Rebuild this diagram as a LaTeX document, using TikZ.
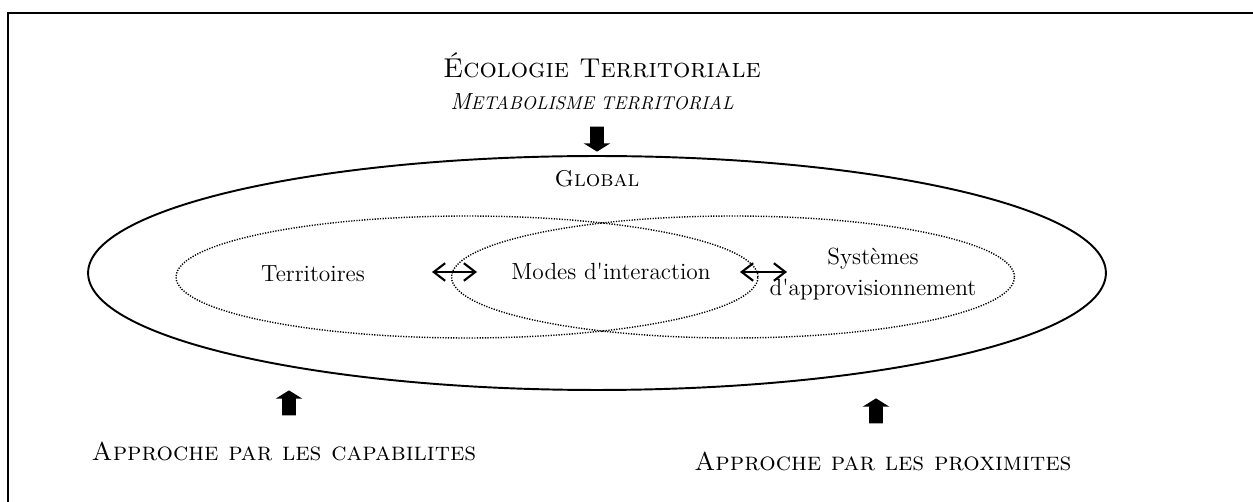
\documentclass[tikz,border=0pt]{standalone}
\usetikzlibrary{shapes.geometric,shapes.arrows,arrows.meta}
\begin{document}
\begin{tikzpicture}[x=0.02cm, y=-0.02cm, >={Straight Barb[length=6.5pt,width=10pt]}]
\tikzstyle{zone}=[ellipse, draw=black, inner sep=0pt]
\tikzstyle{subzone}=[zone, line width=0.8pt, dash pattern=on 0.7pt off 0.8pt]
\tikzstyle{txt}=[font=\fontsize{13.3}{17.6}\selectfont, align=center, inner sep=1pt]
\tikzstyle{captxt}=[txt, font=\fontsize{14.7}{17}\selectfont, anchor=base]
\tikzstyle{bigarrow}=[single arrow, fill=black, inner sep=0.13cm, minimum height=0.5cm, single arrow head extend=0.13cm, single arrow tip angle=116, single arrow head indent=0pt]
\tikzstyle{twoway}=[<->, line width=1.2pt]
\useasboundingbox (0,0) rectangle (1253,502);
\draw[line width=1.4pt] (8,502) -- (8,13) -- (1253,13);
\node[zone, line width=1.1pt, minimum width=20.36cm, minimum height=4.68cm] (global) at (597,273) {};
\node[subzone, minimum width=11.64cm, minimum height=2.44cm] (terrZone) at (467,277) {};
\node[subzone, minimum width=11.26cm, minimum height=2.44cm] (systZone) at (733,277) {};
\node[txt, font=\fontsize{15.5}{18}\selectfont, anchor=base] (title) at (602,78) {\textsc{Écologie Territoriale}};
\node[txt, anchor=base] (subtitle) at (592,110) {\itshape M{\fontsize{10.5}{12}\selectfont ETABOLISME TERRITORIAL}};
\node[txt, font=\fontsize{13}{16}\selectfont, anchor=base] (globalLbl) at (597,187) {\textsc{Global}};
\node[txt, anchor=base] (terr) at (313,282) {Territoires};
\node[txt, anchor=base] (modes) at (611,280) {Modes d\textquotesingle interaction};
\node[txt] (syst) at (873,274) {Systèmes\\d\textquotesingle approvisionnement};
\node[captxt] (capab) at (284,460) {\textsc{Approche par les capabilites}};
\node[captxt] (proxim) at (883,471) {\textsc{Approche par les proximites}};
\node[bigarrow, shape border rotate=270] (down) at (597,137) {};
\node[bigarrow, shape border rotate=90] (upCapab) at (289,405) {};
\node[bigarrow, shape border rotate=90] (upProxim) at (876,413) {};
\coordinate (tmL) at (432,272);
\coordinate (tmR) at (477,272);
\coordinate (msL) at (740,272);
\coordinate (msR) at (787,272);
\draw[twoway] (tmL) -- (tmR);
\draw[twoway] (msL) -- (msR);
\end{tikzpicture}
\end{document}
